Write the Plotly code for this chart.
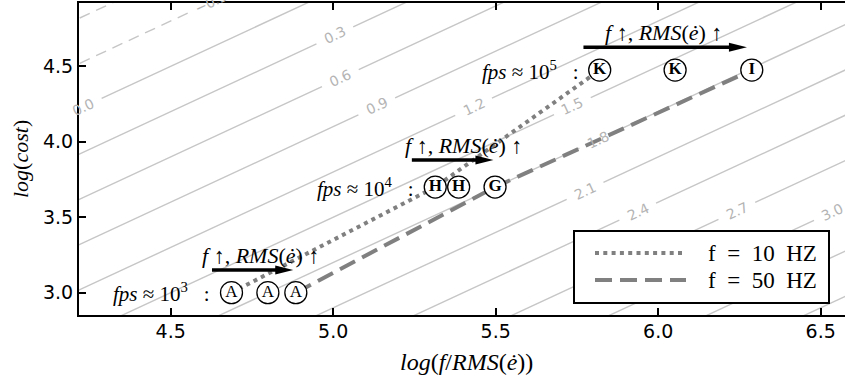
import math
import plotly.graph_objects as go

# ---------------------------------------------------------------- data
fps_exponent = [3, 4, 5]
log_cost = [3.0, 3.70, 4.475]            # log(cost) of each fps group
x_f10 = [4.687, 5.314, 5.820]            # log(f/RMS(ė)), f = 10 Hz
x_mid = [4.799, 5.386, 6.052]            # intermediate frequency
x_f50 = [4.885, 5.498, 6.288]            # log(f/RMS(ė)), f = 50 Hz
tag_f10 = ["A", "H", "K"]
tag_mid = ["A", "H", "K"]
tag_f50 = ["A", "G", "I"]
series_names = ["f = 10 HZ", "f = 50 HZ"]

# iso-lines of z = log(f/RMS(ė)) - log(cost)
iso_levels = [-0.6, -0.3, 0.0, 0.3, 0.6, 0.9, 1.2, 1.5, 1.8, 2.1, 2.4, 2.7, 3.0, 3.3, 3.6]
iso_label_levels = [-0.3, 0.0, 0.3, 0.6, 0.9, 1.2, 1.5, 1.8, 2.1, 2.4, 2.7, 3.0]
iso_label_x = [4.625, 4.231, 5.005, 5.022, 5.134, 5.432, 5.736, 5.814, 5.775, 5.937, 6.242, 6.536]

# "f↑, RMS(ė)↑" arrows, one per fps group
arrow_start = [4.627, 5.242, 5.770]
arrow_end = [4.877, 5.493, 6.273]
arrow_y = [3.150, 3.879, 4.626]
arrow_label_x = [4.776, 5.400, 6.015]

x_ticks = [4.5, 5.0, 5.5, 6.0, 6.5]
y_ticks = [3.0, 3.5, 4.0, 4.5]

# ---------------------------------------------------------------- layout constants
W, H = 845, 378
ML, MR, MT, MB = 79, 0, 3, 63
X_RANGE = [4.2178, 6.5748]
Y_RANGE = [2.8522, 4.9195]
PX_X = (W - ML - MR) / (X_RANGE[1] - X_RANGE[0])
PX_Y = (H - MT - MB) / (Y_RANGE[1] - Y_RANGE[0])
ISO_ANGLE = math.degrees(math.atan(PX_Y / PX_X))

ISO_COLOR = "#c6c6c6"
ISO_TEXT = "#b4b4b4"
SERIES_GRAY = "#808080"
DOT = "4px,4.3px"
DASH = "17px,8px"
SERIF = "Liberation Serif"
SANS = "DejaVu Sans"

fig = go.Figure()

# ---------------------------------------------------------------- iso-lines
gap = 0.0565  # half-width of the break left for each inline label
solid_x, solid_y, dashed_x, dashed_y = [], [], [], []
for lvl in iso_levels:
    xs = [X_RANGE[0] - 0.5, X_RANGE[1] + 0.5]
    if lvl in iso_label_levels:
        lx = iso_label_x[iso_label_levels.index(lvl)]
        pieces = [(xs[0], lx - gap), (lx + gap, xs[1])]
    else:
        pieces = [(xs[0], xs[1])]
    tx, ty = (dashed_x, dashed_y) if lvl < 0 else (solid_x, solid_y)
    for a, b in pieces:
        tx += [a, b, None]
        ty += [a - lvl, b - lvl, None]

fig.add_trace(go.Scatter(x=solid_x, y=solid_y, mode="lines", hoverinfo="skip",
                         line=dict(color=ISO_COLOR, width=1.4)))
fig.add_trace(go.Scatter(x=dashed_x, y=dashed_y, mode="lines", hoverinfo="skip",
                         line=dict(color=ISO_COLOR, width=1.4, dash="11px,7px")))

annotations = []
for lvl, lx in zip(iso_label_levels, iso_label_x):
    ly = lx - lvl
    ly_in = min(max(ly, Y_RANGE[0]), Y_RANGE[1])
    text = f"{lvl:.1f}".replace("-", "\u2212")
    annotations.append(dict(
        x=lx, y=ly_in, xref="x", yref="y", yshift=(ly - ly_in) * PX_Y,
        text=text, showarrow=False, textangle=-ISO_ANGLE,
        xanchor="center", yanchor="middle",
        font=dict(family=SANS, size=14, color=ISO_TEXT)))

# ---------------------------------------------------------------- series
fig.add_trace(go.Scatter(x=x_f10, y=log_cost, mode="lines", name=series_names[0],
                         line=dict(color=SERIES_GRAY, width=4, dash=DOT)))
fig.add_trace(go.Scatter(x=x_f50, y=log_cost, mode="lines", name=series_names[1],
                         line=dict(color=SERIES_GRAY, width=4, dash=DASH)))


def circled(tag):
    return tag if tag == "A" else f"<b>{tag}</b>"


fig.add_trace(go.Scatter(
    x=x_f10 + x_mid + x_f50,
    y=log_cost * 3,
    mode="markers+text",
    text=[circled(t) for t in tag_f10 + tag_mid + tag_f50],
    textposition="middle center",
    textfont=dict(family=SERIF, size=17, color="black"),
    marker=dict(symbol="circle", size=22, color="white",
                line=dict(color="black", width=1.3)),
    hoverinfo="skip"))

# fps group labels
for e, x0, y0 in zip(fps_exponent, x_f10, log_cost):
    annotations.append(dict(
        x=x0, y=y0, xref="x", yref="y", xanchor="right", yanchor="middle",
        xshift=-20, showarrow=False,
        text=f"<i>fps</i> \u2248 10<sup>{e}</sup>\u00a0\u00a0\u00a0:",
        font=dict(family=SERIF, size=21, color="black")))

# arrows
shapes = []
head_len, head_half = 18, 4.5
for xs, xe, ya, xl in zip(arrow_start, arrow_end, arrow_y, arrow_label_x):
    shapes.append(dict(type="line", xref="x", yref="y", layer="above",
                       x0=xs, x1=xe - (head_len - 2) / PX_X, y0=ya, y1=ya,
                       line=dict(color="black", width=3.5)))
    shapes.append(dict(type="path", xref="x", yref="y", layer="above",
                       xsizemode="pixel", ysizemode="pixel", xanchor=xe, yanchor=ya,
                       path=f"M0,0 L{-head_len},{head_half} L{-head_len},{-head_half} Z",
                       fillcolor="black", line=dict(width=0)))
    annotations.append(dict(
        x=xl, y=ya, xref="x", yref="y", yshift=15, showarrow=False,
        xanchor="center", yanchor="middle",
        text="<i>f</i> \u2191, <i>RMS</i>(<i>\u0117</i>) \u2191",
        font=dict(family=SERIF, size=22, color="black")))

# ---------------------------------------------------------------- legend box
def px_to_paper(px, py):
    return (px - ML) / (W - ML - MR), (H - MB - py) / (H - MT - MB)


bx0, by0 = px_to_paper(574, 303)
bx1, by1 = px_to_paper(829, 231)
shapes.append(dict(type="rect", xref="paper", yref="paper", layer="above",
                   x0=bx0, x1=bx1, y0=by0, y1=by1, fillcolor="white",
                   line=dict(color="black", width=2)))
for name, dash, row_py in zip(series_names, [DOT, DASH], [253, 280]):
    lx0, ly = px_to_paper(595, row_py)
    lx1, _ = px_to_paper(686, row_py)
    tx, _ = px_to_paper(706, row_py)
    shapes.append(dict(type="line", xref="paper", yref="paper", layer="above",
                       x0=lx0, x1=lx1, y0=ly, y1=ly,
                       line=dict(color=SERIES_GRAY, width=4, dash=dash)))
    annotations.append(dict(x=tx, y=ly, xref="paper", yref="paper",
                            xanchor="left", yanchor="middle", showarrow=False,
                            text=name.replace(" ", "\u2002"),
                            font=dict(family=SERIF, size=23, color="black")))

# ---------------------------------------------------------------- axis titles
tx, ty = px_to_paper(466, 362)
annotations.append(dict(x=tx, y=ty, xref="paper", yref="paper", showarrow=False,
                        xanchor="center", yanchor="middle",
                        text="<i>log</i>(<i>f</i>/<i>RMS</i>(<i>\u0117</i>))",
                        font=dict(family=SERIF, size=24, color="black")))
tx, ty = px_to_paper(20, 159)
annotations.append(dict(x=tx, y=ty, xref="paper", yref="paper", showarrow=False,
                        xanchor="center", yanchor="middle", textangle=-90,
                        text="<i>log</i>(<i>cost</i>)",
                        font=dict(family=SERIF, size=22, color="black")))

axis_common = dict(showgrid=False, zeroline=False, showline=True, linecolor="black",
                   linewidth=2, ticks="inside", ticklen=7, tickwidth=1.5,
                   tickcolor="black", tickformat=".1f",
                   tickfont=dict(family=SANS, size=19, color="black"))

fig.update_layout(
    width=W, height=H, margin=dict(l=ML, r=MR, t=MT, b=MB),
    plot_bgcolor="white", paper_bgcolor="white", showlegend=False,
    xaxis=dict(range=X_RANGE, tickvals=x_ticks, mirror="ticks",
               ticklabelstandoff=-2, **axis_common),
    yaxis=dict(range=Y_RANGE, tickvals=y_ticks, mirror=False, **axis_common),
    shapes=shapes, annotations=annotations)

fig.write_html("out.html")
